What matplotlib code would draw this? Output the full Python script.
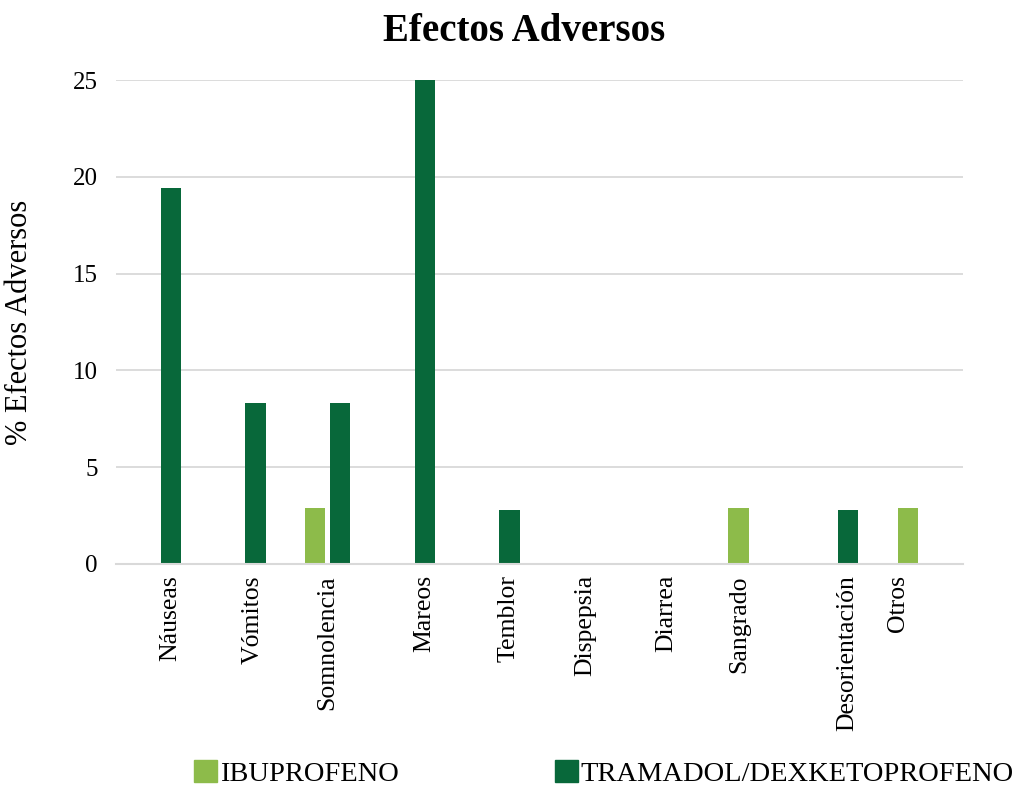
import matplotlib
matplotlib.use("Agg")
import matplotlib.pyplot as plt
import matplotlib.patches as mpatches
import numpy as np

plt.rcParams['font.family'] = ['Liberation Serif', 'DejaVu Serif']

# datos
categorias = ['Náuseas', 'Vómitos', 'Somnolencia', 'Mareos', 'Temblor',
              'Dispepsia', 'Diarrea', 'Sangrado', 'Desorientación', 'Otros']
ibuprofeno = [0, 0, 2.9, 0, 0, 0, 0, 2.9, 0, 2.9]
tramadol = [19.4, 8.3, 8.3, 25, 2.8, 0, 0, 0, 2.8, 0]
yticks = [0, 5, 10, 15, 20, 25]

# desplazamiento de las etiquetas (como en el original)
desp_etiq = [0.14, 0.12, 0, 0.14, 0.14, 0.04, 0, -0.14, 0.14, -0.27]

c_ibu = '#8DBB4A'
c_tra = '#08683A'

fig = plt.figure(figsize=(10.22, 7.87), dpi=100)
ax = fig.add_axes([0.1135, 0.2834, 0.8285, 0.6149])

x = np.arange(len(categorias))
ancho = 0.24
ax.bar(x - 0.148, ibuprofeno, ancho, color=c_ibu, zorder=3)
ax.bar(x + 0.148, tramadol, ancho, color=c_tra, zorder=3)

ax.set_xlim(-0.5, len(categorias) - 0.5)
ax.set_ylim(0, 25)
ax.set_yticks(yticks)
ax.set_yticklabels([str(t) for t in yticks], fontsize=18)
ax.yaxis.grid(True, color='#d9d9d9', linewidth=1.3, zorder=0)
ax.set_axisbelow(True)

ax.set_xticks(x + np.array(desp_etiq))
ax.set_xticklabels(categorias, rotation=90, fontsize=18.5, va='top')
ax.tick_params(axis='both', length=0)
ax.tick_params(axis='x', pad=8)
ax.tick_params(axis='y', pad=13)

for s in ['top', 'right', 'left']:
    ax.spines[s].set_visible(False)
ax.spines['bottom'].set_color('#d9d9d9')
ax.spines['bottom'].set_linewidth(1.5)
ax.spines['bottom'].set_zorder(4)

ax.set_ylabel('% Efectos Adversos', fontsize=22, labelpad=28)
fig.suptitle('Efectos Adversos', fontsize=28, fontweight='bold', x=0.513, y=0.984)

h1 = mpatches.Patch(color=c_ibu, label='IBUPROFENO')
h2 = mpatches.Patch(color=c_tra, label='TRAMADOL/DEXKETOPROFENO')
fig.legend(handles=[h1, h2], loc='lower center', bbox_to_anchor=(0.591, -0.032),
           ncol=2, frameon=False, fontsize=20.5, handlelength=0.8,
           handleheight=0.8, handletextpad=0.1, columnspacing=5.5)

fig.savefig('out.png', dpi=100)
